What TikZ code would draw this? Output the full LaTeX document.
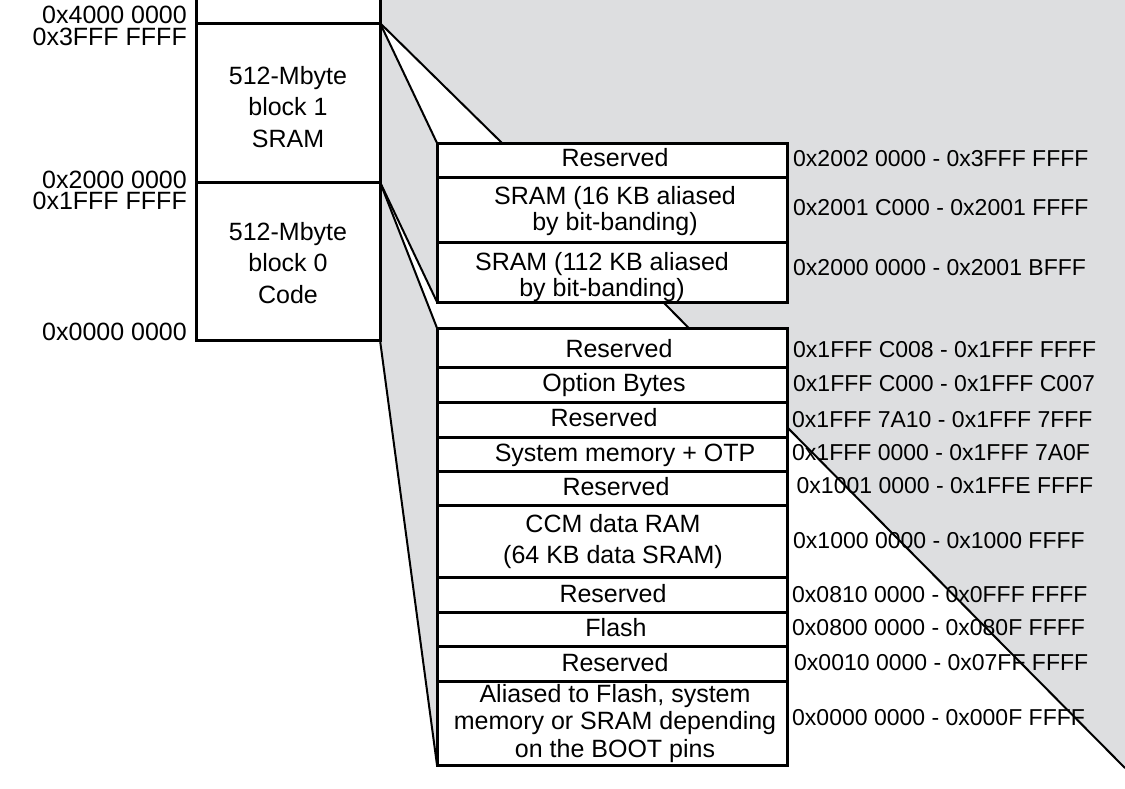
\documentclass[tikz,border=0pt]{standalone}
\usepackage{fontspec}
\setmainfont{Liberation Sans}
\definecolor{memgray}{RGB}{221,222,224}
\pgfdeclarelayer{background}
\pgfsetlayers{background,main}
\begin{document}
\begin{tikzpicture}[x=1pt,y=-1pt,
  cell/.style={draw=black, line width=3pt, fill=white, minimum width=350pt, anchor=north west, inner sep=0pt, outer sep=0pt},
  blk/.style={draw=black, line width=3pt, fill=white, minimum width=184pt, anchor=north west, inner sep=0pt, outer sep=0pt},
  fan/.style={line width=2pt, line cap=round},
  txt/.style={font=\fontsize{25}{26}\selectfont, inner sep=0pt, align=center, anchor=base},
  addr/.style={font=\fontsize{23}{26}\selectfont, inner sep=0pt, anchor=base west},
  lbl/.style={font=\fontsize{25}{26}\selectfont, inner sep=0pt, anchor=base east}]
\useasboundingbox (0,0) rectangle (1125,788);

% left column
\node[blk, minimum height=33pt] (top) at (196,-10) {};
\node[blk, minimum height=159pt] (b1) at (196,23) {};
\node[blk, minimum height=158pt] (b0) at (196,182) {};
\node[txt, font=\fontsize{25}{31.5}\selectfont] (tb1) at (288,147) {512-Mbyte\\block 1\\SRAM};
\node[txt, font=\fontsize{25}{31.5}\selectfont] (tb0) at (288,303) {512-Mbyte\\block 0\\Code};

\node[lbl] (a40) at (187,23) {0x4000 0000};
\node[lbl] (a3f) at (187,45) {0x3FFF FFFF};
\node[lbl] (a20) at (187,188) {0x2000 0000};
\node[lbl] (a1f) at (187,209) {0x1FFF FFFF};
\node[lbl] (a00) at (187,340) {0x0000 0000};

% upper table
\node[cell, minimum height=34pt] (u1) at (437,143) {};
\node[cell, minimum height=65pt] (u2) at (437,177) {};
\node[cell, minimum height=60pt] (u3) at (437,242) {};
\node[txt] (tu1) at (615,166) {Reserved};
\node[txt] (tu2) at (615,230) {SRAM (16 KB aliased\\by bit-banding)};
\node[txt] (tu3) at (602,296) {SRAM (112 KB aliased\\by bit-banding)};

% lower table
\node[cell, minimum height=39pt] (l1) at (437,328) {};
\node[cell, minimum height=35pt] (l2) at (437,367) {};
\node[cell, minimum height=35pt] (l3) at (437,402) {};
\node[cell, minimum height=34pt] (l4) at (437,437) {};
\node[cell, minimum height=34pt] (l5) at (437,471) {};
\node[cell, minimum height=72pt] (l6) at (437,505) {};
\node[cell, minimum height=35pt] (l7) at (437,577) {};
\node[cell, minimum height=34pt] (l8) at (437,612) {};
\node[cell, minimum height=35pt] (l9) at (437,646) {};
\node[cell, minimum height=84pt] (l10) at (437,681) {};
\node[txt] (tl1) at (619,357) {Reserved};
\node[txt] (tl2) at (614,391) {Option Bytes};
\node[txt] (tl3) at (604,426.5) {Reserved};
\node[txt] (tl4) at (625,461) {System memory + OTP};
\node[txt] (tl5) at (616,495) {Reserved};
\node[txt, font=\fontsize{25}{31}\selectfont] (tl6) at (613,563) {CCM data RAM\\(64 KB data SRAM)};
\node[txt] (tl7) at (613,602) {Reserved};
\node[txt] (tl8) at (616,636) {Flash};
\node[txt] (tl9) at (615,671) {Reserved};
\node[txt, font=\fontsize{25}{27.5}\selectfont] (tl10) at (615,757) {Aliased to Flash, system\\memory or SRAM depending\\on the BOOT pins};

% addresses
\node[addr] (r1) at (793,166) {0x2002 0000 - 0x3FFF FFFF};
\node[addr] (r2) at (793,215) {0x2001 C000 - 0x2001 FFFF};
\node[addr] (r3) at (793,275) {0x2000 0000 - 0x2001 BFFF};
\node[addr] (r4) at (793,357) {0x1FFF C008 - 0x1FFF FFFF};
\node[addr] (r5) at (793,391) {0x1FFF C000 - 0x1FFF C007};
\node[addr] (r6) at (792,427) {0x1FFF 7A10 - 0x1FFF 7FFF};
\node[addr] (r7) at (792,460) {0x1FFF 0000 - 0x1FFF 7A0F};
\node[addr] (r8) at (796.5,493) {0x1001 0000 - 0x1FFE FFFF};
\node[addr] (r9) at (793,548) {0x1000 0000 - 0x1000 FFFF};
\node[addr] (r10) at (792,602) {0x0810 0000 - 0x0FFF FFFF};
\node[addr] (r11) at (792,635) {0x0800 0000 - 0x080F FFFF};
\node[addr] (r12) at (794,670) {0x0010 0000 - 0x07FF FFFF};
\node[addr] (r13) at (792,725) {0x0000 0000 - 0x000F FFFF};

\coordinate (p1) at (502,143);
\coordinate (d0) at (663,302);
\coordinate (d1) at (1125,768);
\coordinate (d2) at (687,327);

\begin{pgfonlayer}{background}
\fill[memgray] (b1.north east |- 0,0) -- (1125,0) -- (d1) -- (787,428) -- (l10.south east) -- (l10.south west) -- (b0.south east) -- cycle;
\fill[white] (b1.north east) -- (u1.north west) -- (p1) -- cycle;
\fill[white] (b0.north east) -- (u3.south west) -- (d0) -- (d2) -- (l1.north west) -- cycle;
\draw[fan] (b1.north east) -- (u1.north west);
\draw[fan] (b1.north east) -- (p1);
\draw[fan] (b0.north east) -- (u3.south west);
\draw[fan] (b0.north east) -- (l1.north west);
\draw[fan] (d0) -- (d1);
\draw[fan] (b0.south east) -- (l10.south west);
\end{pgfonlayer}
\end{tikzpicture}
\end{document}
